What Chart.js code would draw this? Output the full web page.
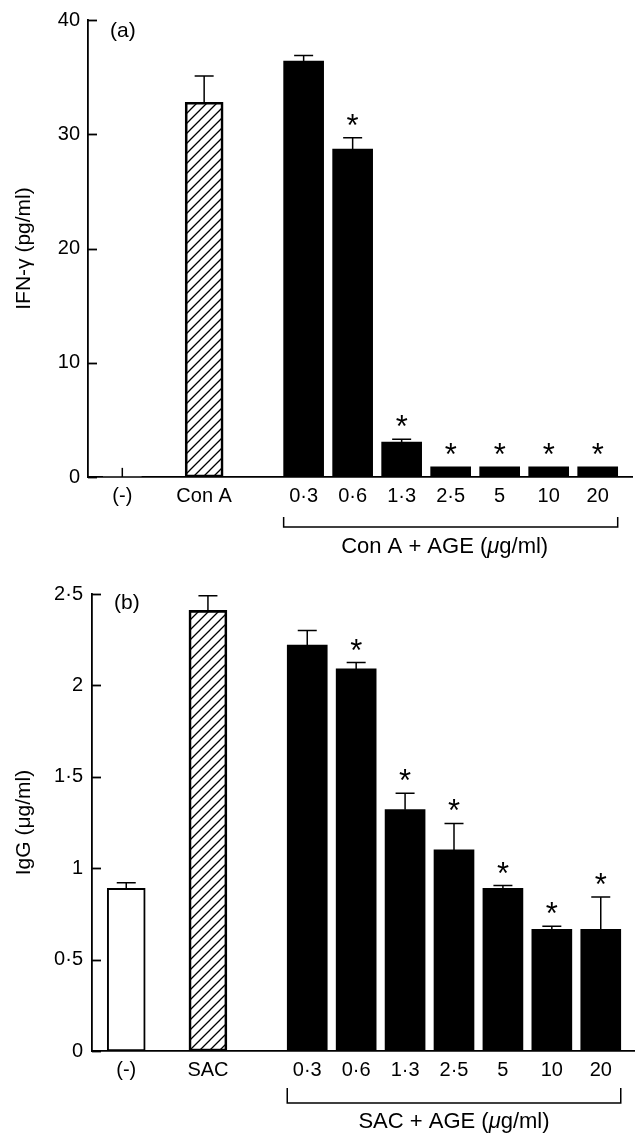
<!DOCTYPE html>
<html lang="en">
<head>
<meta charset="UTF-8">
<title>IFN-γ and IgG with AGE</title>
<script src="https://cdn.jsdelivr.net/npm/chart.js"></script>
<style>
  html, body { margin: 0; padding: 0; background: #fff; }
  body { width: 635px; height: 1133px; position: relative; overflow: hidden; }
  .panel { position: absolute; left: 0; width: 635px; }
  #panel-a { top: 0; height: 580px; }
  #panel-b { top: 560px; height: 573px; }
</style>
</head>
<body>
<div class="panel" id="panel-a"><canvas id="chart-a"></canvas></div>
<div class="panel" id="panel-b"><canvas id="chart-b"></canvas></div>

<script>
// values
const ctrlLabelsA = ['(-)', 'Con A'];
const ctrlLabelsB = ['(-)', 'SAC'];
const doseLabels = ['0·3', '0·6', '1·3', '2·5', '5', '10', '20'];

const ctrlA = [0, 32.8];
const ctrlErrA = [0.8, 2.3];
const doseA = [36.4, 28.7, 3.05, 0.9, 0.9, 0.9, 0.9];
const doseErrA = [0.5, 1.0, 0.25, 0, 0, 0, 0];
const doseSigA = [false, true, true, true, true, true, true];
const yTicksA = ['0', '10', '20', '30', '40'];

const ctrlB = [0.89, 2.41];
const ctrlErrB = [0.03, 0.08];
const doseB = [2.22, 2.09, 1.32, 1.10, 0.89, 0.665, 0.665];
const doseErrB = [0.08, 0.035, 0.09, 0.145, 0.015, 0.018, 0.178];
const doseSigB = [false, true, true, true, true, true, true];
const yTicksB = ['0', '0·5', '1', '1·5', '2', '2·5'];

const FONT = "'Liberation Sans', Arial, Helvetica, sans-serif";

// slot positions on the x axis (axis units)
const ctrlSlots = [-3.7, -2.03];
const doseSlots = doseLabels.map((_, i) => i);

function hatch() {
  const c = document.createElement('canvas');
  c.width = 10; c.height = 10;
  const g = c.getContext('2d');
  g.strokeStyle = '#000';
  g.lineWidth = 1.3;
  g.beginPath();
  g.moveTo(0, 10); g.lineTo(10, 0);
  g.moveTo(-1, 1); g.lineTo(1, -1);
  g.moveTo(9, 11); g.lineTo(11, 9);
  g.stroke();
  return g.createPattern(c, 'repeat');
}

const decor = {
  id: 'decor',
  afterDraw(chart, args, o) {
    const { ctx, chartArea: ca, scales: { x, y } } = chart;
    ctx.save();
    ctx.strokeStyle = '#000';
    ctx.fillStyle = '#000';

    // inward tick marks on the y axis
    ctx.lineWidth = 1.8;
    y.ticks.forEach(t => {
      const py = Math.round(y.getPixelForValue(t.value)) + 0.5;
      ctx.beginPath();
      ctx.moveTo(ca.left, py);
      ctx.lineTo(ca.left + 9, py);
      ctx.stroke();
    });

    // error bars and significance stars
    ctx.lineWidth = 1.5;
    ctx.font = '31px ' + FONT;
    ctx.textAlign = 'center';
    ctx.textBaseline = 'alphabetic';
    chart.data.datasets.forEach((ds, di) => {
      chart.getDatasetMeta(di).data.forEach((bar, i) => {
        const v = ds.data[i].y, e = ds.errors[i];
        const pv = y.getPixelForValue(v), pe = y.getPixelForValue(v + e);
        if (e > 0) {
          ctx.beginPath();
          ctx.moveTo(bar.x, pv);
          ctx.lineTo(bar.x, pe);
          if (v > 0) {
            ctx.moveTo(bar.x - 9.5, pe);
            ctx.lineTo(bar.x + 9.5, pe);
          }
          ctx.stroke();
        }
        if (ds.sig && ds.sig[i]) ctx.fillText('*', bar.x, pe - 2);
      });
    });

    // bracket under the dose group
    const xl = x.getPixelForValue(doseSlots[0]) - 20;
    const xr = x.getPixelForValue(doseSlots[doseSlots.length - 1]) + 20;
    const b0 = ca.bottom + o.bracketTop, b1 = ca.bottom + o.bracketBottom;
    ctx.lineWidth = 1.5;
    ctx.beginPath();
    ctx.moveTo(xl, b0); ctx.lineTo(xl, b1); ctx.lineTo(xr, b1); ctx.lineTo(xr, b0);
    ctx.stroke();

    // group caption, with italic mu
    const parts = [[o.group + ' + AGE (', 'normal'], ['μ', 'italic'], ['g/ml)', 'normal']];
    let w = 0;
    parts.forEach(p => { ctx.font = p[1] + ' 22px ' + FONT; w += ctx.measureText(p[0]).width; });
    let cx = (xl + xr) / 2 - w / 2 + o.captionShift;
    ctx.textAlign = 'left';
    ctx.textBaseline = 'middle';
    parts.forEach(p => {
      ctx.font = p[1] + ' 22px ' + FONT;
      ctx.fillText(p[0], cx, ca.bottom + o.captionY);
      cx += ctx.measureText(p[0]).width;
    });

    // panel letter
    ctx.font = '21px ' + FONT;
    ctx.fillText(o.letter, ca.left + 22, ca.top + o.letterY);
    ctx.restore();
  }
};

function makeChart(id, s) {
  const pattern = hatch();
  return new Chart(document.getElementById(id), {
    type: 'bar',
    data: {
      datasets: [
        {
          data: s.ctrl.map((v, i) => ({ x: ctrlSlots[i], y: v })),
          errors: s.ctrlErr,
          backgroundColor: ['#fff', pattern],
          borderColor: '#000',
          borderWidth: s.ctrlBorder,
          borderSkipped: false,
          barThickness: 38,
          grouped: false
        },
        {
          data: s.dose.map((v, i) => ({ x: doseSlots[i], y: v })),
          errors: s.doseErr,
          sig: s.sig,
          backgroundColor: '#000',
          borderWidth: 0,
          barThickness: 40,
          grouped: false
        }
      ]
    },
    options: {
      responsive: true,
      maintainAspectRatio: false,
      animation: false,
      events: [],
      layout: { padding: s.padding },
      plugins: {
        legend: { display: false },
        tooltip: { enabled: false },
        decor: s.decor
      },
      scales: {
        x: {
          type: 'linear',
          offset: false,
          min: -4.4,
          max: 6.7,
          afterBuildTicks: ax => { ax.ticks = ctrlSlots.concat(doseSlots).map(v => ({ value: v })); },
          afterFit: ax => { ax.height = s.xHeight; },
          grid: { display: false, drawTicks: false },
          border: { display: true, color: '#000', width: 1.8 },
          ticks: {
            autoSkip: false,
            maxRotation: 0,
            padding: 7,
            color: '#000',
            font: { family: FONT, size: 20 },
            callback: (v, i) => s.xLabels[i]
          }
        },
        y: {
          min: 0,
          max: s.yMax,
          afterFit: ax => { ax.width = s.yWidth; },
          ticks: {
            stepSize: s.yStep,
            padding: s.yPad,
            color: '#000',
            font: { family: FONT, size: 20 },
            callback: (v, i) => s.yTicks[i]
          },
          grid: { display: false, drawTicks: false },
          border: { display: true, color: '#000', width: 1.8 },
          title: {
            display: true,
            text: s.yTitle,
            color: '#000',
            font: { family: FONT, size: 21 },
            padding: { top: 10, bottom: 0 }
          }
        }
      }
    },
    plugins: [decor]
  });
}

makeChart('chart-a', {
  ctrl: ctrlA, ctrlErr: ctrlErrA, dose: doseA, doseErr: doseErrA, sig: doseSigA,
  ctrlBorder: [0, 2],
  xLabels: ctrlLabelsA.concat(doseLabels),
  yTicks: yTicksA, yMax: 40, yStep: 10, yPad: 8, yWidth: 86,
  yTitle: 'IFN-γ (pg/ml)',
  xHeight: 100,
  padding: { left: 2, top: 18, right: 3, bottom: 3 },
  decor: { group: 'Con A', letter: '(a)', letterY: 11, bracketTop: 40, bracketBottom: 50, captionY: 70, captionShift: -6 }
});

makeChart('chart-b', {
  ctrl: ctrlB, ctrlErr: ctrlErrB, dose: doseB, doseErr: doseErrB, sig: doseSigB,
  ctrlBorder: 2,
  xLabels: ctrlLabelsB.concat(doseLabels),
  yTicks: yTicksB, yMax: 2.5, yStep: 0.5, yPad: 9, yWidth: 90,
  yTitle: 'IgG (μg/ml)',
  xHeight: 80,
  padding: { left: 2, top: 34, right: 0, bottom: 2 },
  decor: { group: 'SAC', letter: '(b)', letterY: 9, bracketTop: 37, bracketBottom: 52, captionY: 71, captionShift: 0 }
});
</script>
</body>
</html>
